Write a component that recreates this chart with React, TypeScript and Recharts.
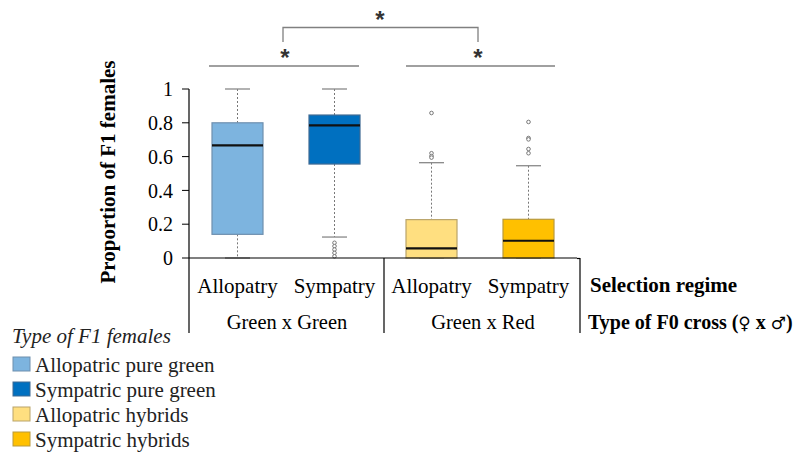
import React from "react";
import { BarChart, Bar, XAxis, YAxis } from "recharts";

// four boxes: Green x Green (allo, sym), Green x Red (allo, sym)
const groupIds = ["ggAllo", "ggSym", "grAllo", "grSym"];
const regimeLabels = ["Allopatry", "Sympatry", "Allopatry", "Sympatry"];
const crossLabels = ["Green x Green", "Green x Red"];
const legendLabels = [
  "Allopatric pure green",
  "Sympatric pure green",
  "Allopatric hybrids",
  "Sympatric hybrids",
];

const whiskerLow = [0, 0.124, 0, 0];
const q1 = [0.14, 0.556, 0, 0];
const median = [0.667, 0.785, 0.057, 0.102];
const q3 = [0.8, 0.846, 0.227, 0.229];
const whiskerHigh = [1, 1, 0.564, 0.546];
const outliers = [
  [],
  [0.09, 0.07, 0.05, 0.03, 0.01],
  [0.858, 0.62, 0.603, 0.594],
  [0.805, 0.71, 0.702, 0.645, 0.62],
];
const yTicks = [0, 0.2, 0.4, 0.6, 0.8, 1];

const boxColors = ["#7db4df", "#0070c0", "#ffdf80", "#ffc000"];
const boxBorders = ["#6e8fae", "#3f6a93", "#b9a46a", "#b99a3c"];

const data = groupIds.map((id, i) => ({
  id,
  i,
  base: q1[i],
  iqr: q3[i] - q1[i],
  lo: whiskerLow[i],
  q1: q1[i],
  med: median[i],
  q3: q3[i],
  hi: whiskerHigh[i],
  out: outliers[i],
}));

const serif = "'Liberation Serif', 'Times New Roman', serif";

const BoxShape = (props: any) => {
  const { x, y, width, height, payload } = props;
  const k = height / (payload.q3 - payload.q1);
  const py = (v: number) => y + height - (v - payload.q1) * k;
  const cx = x + width / 2;
  const cap = 12.5;
  return (
    <g>
      <line x1={cx} x2={cx} y1={py(payload.hi)} y2={y} stroke="#777" strokeDasharray="2 2" />
      <line x1={cx} x2={cx} y1={y + height} y2={py(payload.lo)} stroke="#777" strokeDasharray="2 2" />
      <line x1={cx - cap} x2={cx + cap} y1={py(payload.hi)} y2={py(payload.hi)} stroke="#888" strokeWidth={1.3} />
      <line x1={cx - cap} x2={cx + cap} y1={py(payload.lo)} y2={py(payload.lo)} stroke="#888" strokeWidth={1.3} />
      <rect x={x} y={y} width={width} height={height} fill={boxColors[payload.i]} stroke={boxBorders[payload.i]} strokeWidth={1.2} />
      <line x1={x} x2={x + width} y1={py(payload.med)} y2={py(payload.med)} stroke="#111" strokeWidth={2.2} />
      {payload.out.map((v: number, j: number) => (
        <circle key={j} cx={cx} cy={py(v)} r={1.8} fill="#fff" stroke="#777" strokeWidth={1} />
      ))}
    </g>
  );
};

const Overlay = () => (
  <svg width={807} height={456} style={{ position: "absolute", left: 0, top: 0, pointerEvents: "none" }}>
    {/* significance brackets */}
    <g stroke="#808080" strokeWidth={1.3} fill="none">
      <polyline points="283,42 283,27.5 478,27.5 478,42" />
      <line x1={209} x2={359} y1={66} y2={66} />
      <line x1={406} x2={555} y1={66} y2={66} />
    </g>
    <g fontFamily="'Liberation Sans', sans-serif" fontWeight="bold" fontSize={24} fill="#333" textAnchor="middle">
      <text x={380} y={28}>*</text>
      <text x={285} y={66}>*</text>
      <text x={478} y={66}>*</text>
    </g>
    {/* category separators */}
    <g stroke="#000" strokeWidth={1.2}>
      <line x1={189} x2={189} y1={258} y2={333} />
      <line x1={384} x2={384} y1={258} y2={333} />
      <line x1={580} x2={580} y1={258} y2={333} />
      <line x1={577} x2={580} y1={258.5} y2={258.5} />
    </g>
    <g fontFamily={serif} fontSize={20.5} fill="#000" textAnchor="middle">
      <text x={287} y={329}>{crossLabels[0]}</text>
      <text x={483} y={329}>{crossLabels[1]}</text>
    </g>
    <g fontFamily={serif} fontWeight="bold" fill="#000">
      <text x={590} y={292} fontSize={21}>Selection regime</text>
      <text x={588} y={329} fontSize={20}>
        Type of F0 cross (
        <tspan fontFamily="'DejaVu Sans', sans-serif" fontWeight="normal" fontSize={17}>♀</tspan>
        {" x "}
        <tspan fontFamily="'DejaVu Sans', sans-serif" fontWeight="normal" fontSize={17}>♂</tspan>)
      </text>
    </g>
    <text
      transform="translate(115,172) rotate(-90)"
      textAnchor="middle"
      fontFamily={serif}
      fontSize={21}
      fontWeight="bold"
      fill="#000"
    >
      Proportion of F1 females
    </text>
    {/* legend */}
    <text x={12} y={343} fontFamily={serif} fontSize={21} fontStyle="italic" fill="#222">
      Type of F1 females
    </text>
    {legendLabels.map((label, i) => (
      <g key={label}>
        <rect x={13} y={357 + i * 25} width={17} height={14} fill={boxColors[i]} stroke={boxBorders[i]} />
        <text x={35} y={372 + i * 25} fontFamily={serif} fontSize={21} fill="#222">
          {label}
        </text>
      </g>
    ))}
  </svg>
);

export default function App() {
  return (
    <div style={{ position: "absolute", left: 0, top: 0, width: 807, height: 456, background: "#fff" }}>
      <BarChart
        width={807}
        height={456}
        data={data}
        margin={{ top: 89, right: 230, left: 0, bottom: 158 }}
        barSize={51}
      >
        <XAxis
          dataKey="id"
          tickFormatter={(v: string) => regimeLabels[groupIds.indexOf(v)]}
          tickLine={false}
          axisLine={{ stroke: "#000", strokeWidth: 1.2 }}
          tick={{ fill: "#000", fontSize: 21, fontFamily: serif }}
          tickMargin={14}
          height={40}
        />
        <YAxis
          width={189}
          domain={[0, 1]}
          ticks={yTicks}
          interval={0}
          tickSize={7}
          tickMargin={9}
          axisLine={{ stroke: "#000", strokeWidth: 1.2 }}
          tickLine={{ stroke: "#000" }}
          tick={{ fill: "#000", fontSize: 20, fontFamily: serif }}
        />
        <Bar dataKey="base" stackId="box" fill="transparent" isAnimationActive={false} />
        <Bar dataKey="iqr" stackId="box" shape={BoxShape} isAnimationActive={false} />
      </BarChart>
      <Overlay />
    </div>
  );
}
